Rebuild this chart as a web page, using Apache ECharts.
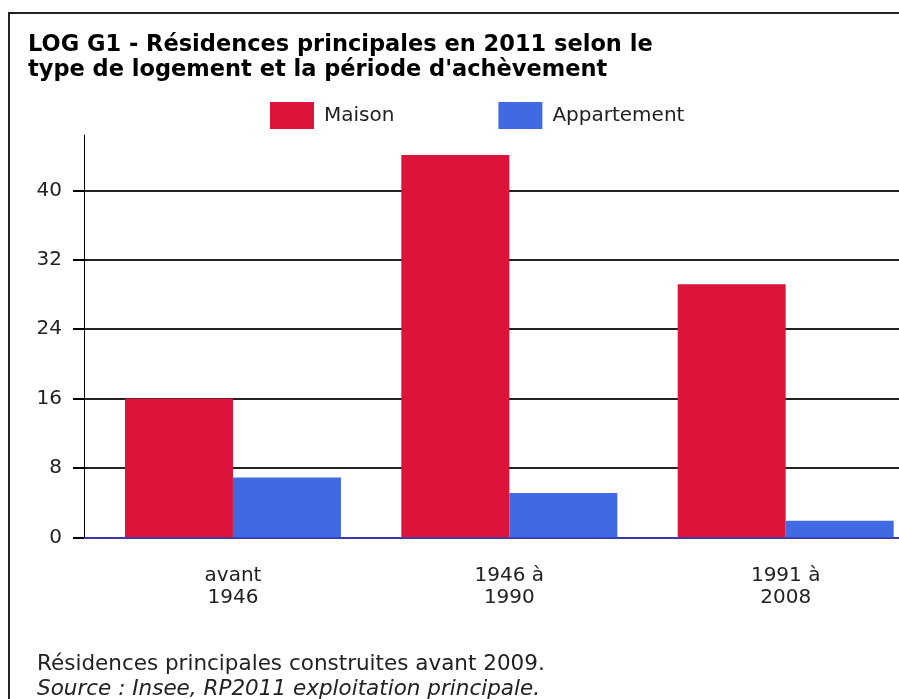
<!DOCTYPE html>
<html><head><meta charset="utf-8">
<script src="https://cdn.jsdelivr.net/npm/echarts@6/dist/echarts.min.js"></script>
<style>html,body{margin:0;padding:0;background:#fff}#c{width:899px;height:699px}</style>
</head><body><div id="c"></div>
<script>
const categories = ['avant\n1946', '1946 à\n1990', '1991 à\n2008'];
const seriesNames = ['Maison', 'Appartement'];
const maison = [16.0, 44.1, 29.2];
const appartement = [6.9, 5.1, 1.9];
const yTicks = [0, 8, 16, 24, 32, 40];
const yMax = 46.4;
const titleText = "LOG G1 - Résidences principales en 2011 selon le\ntype de logement et la période d'achèvement";
const note1 = 'Résidences principales construites avant 2009.';
const note2 = 'Source : Insee, RP2011 exploitation principale.';

const FONT = '"DejaVu Sans", Verdana, sans-serif';
const chart = echarts.init(document.getElementById('c'), null, {renderer: 'canvas'});
const gridTop = 135, gridBottom = 161.7;
chart.setOption({
  animation: false,
  backgroundColor: '#fff',
  color: ['#DC143C', '#4169E1'],
  title: {
    text: titleText, left: 28, top: 33, padding: 0,
    textStyle: {fontFamily: FONT, fontWeight: 'bold', fontSize: 22.5, lineHeight: 25, color: '#000'}
  },
  legend: {
    data: seriesNames, left: 270, top: 102, padding: 0,
    itemWidth: 44, itemHeight: 27, itemGap: 104, icon: 'rect',
    textStyle: {fontFamily: FONT, fontSize: 20, color: '#222', padding: [0, 0, 0, 5]}
  },
  grid: [
    {left: 84, top: gridTop, bottom: gridBottom, width: 830, outerBoundsMode: 'none', containLabel: false},
    {left: 94.8, top: gridTop, bottom: gridBottom, width: 829.05, outerBoundsMode: 'none', containLabel: false}
  ],
  xAxis: [
    {gridIndex: 0, type: 'value', min: 0, max: 1,
     axisLine: {show: true, onZero: false, lineStyle: {color: '#3a3aae', width: 2}},
     axisTick: {show: false}, axisLabel: {show: false}, splitLine: {show: false}},
    {gridIndex: 1, type: 'category', data: categories,
     axisLine: {show: false}, axisTick: {show: false},
     axisLabel: {margin: 27, fontFamily: FONT, fontSize: 20, lineHeight: 22, color: '#222'}}
  ],
  yAxis: [
    {gridIndex: 0, type: 'value', min: 0, max: yMax, interval: 8,
     axisLine: {show: true, lineStyle: {color: '#000', width: 1}},
     axisTick: {show: true, length: 11, customValues: yTicks, lineStyle: {color: '#000', width: 2}},
     axisLabel: {customValues: yTicks, margin: 22, fontFamily: FONT, fontSize: 20, color: '#222'},
     splitLine: {show: true, showMinLine: false, lineStyle: {color: '#222', width: 2}}},
    {gridIndex: 1, type: 'value', min: 0, max: yMax, show: false}
  ],
  series: [
    {name: seriesNames[0], type: 'bar', xAxisIndex: 1, yAxisIndex: 1, data: maison,
     barWidth: 108, barGap: '0%', itemStyle: {color: '#DC143C'}},
    {name: seriesNames[1], type: 'bar', xAxisIndex: 1, yAxisIndex: 1, data: appartement,
     barWidth: 108, barGap: '0%', itemStyle: {color: '#4169E1'}}
  ],
  graphic: [
    {type: 'rect', z: -1, shape: {x: 9, y: 13, width: 1200, height: 1200},
     style: {fill: 'none', stroke: '#222', lineWidth: 2}},
    {type: 'text', left: 37, top: 653,
     style: {text: note1, font: '21.5px "DejaVu Sans"', fill: '#222'}},
    {type: 'text', left: 37, top: 678,
     style: {text: note2, font: 'italic 21.5px "DejaVu Sans"', fill: '#222'}}
  ]
});
</script></body></html>
